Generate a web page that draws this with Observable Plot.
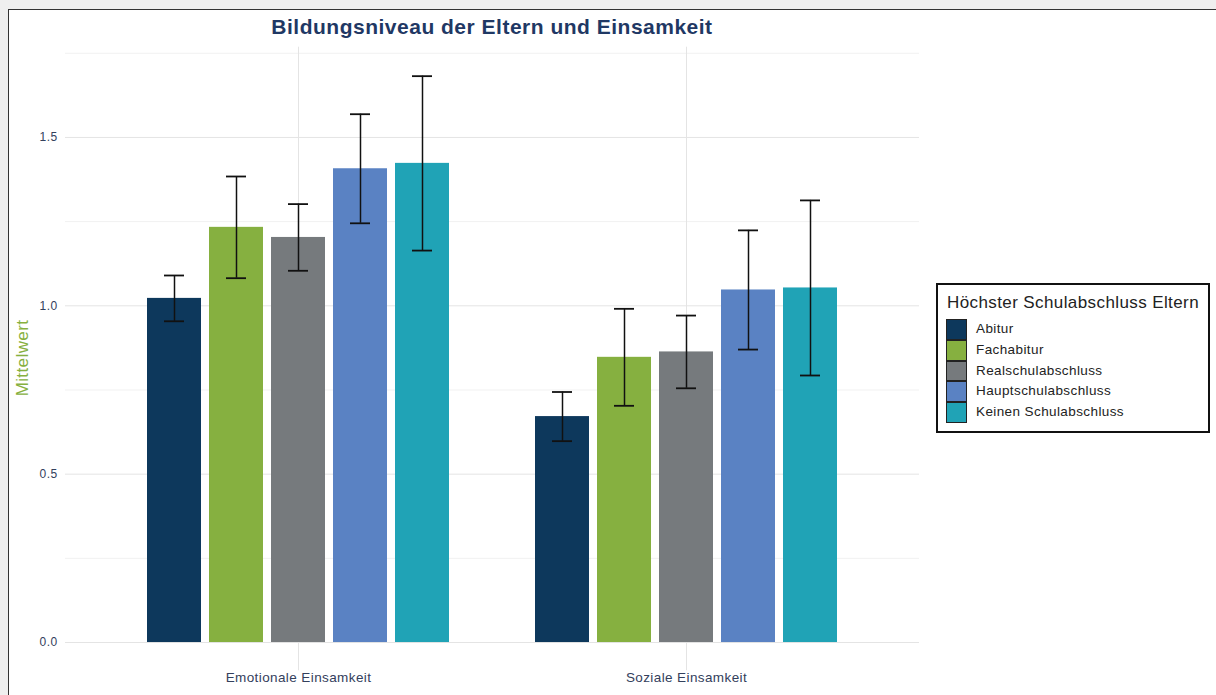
<!DOCTYPE html>
<html>
<head>
<meta charset="utf-8">
<script src="https://cdn.jsdelivr.net/npm/d3@7"></script>
<script src="https://cdn.jsdelivr.net/npm/@observablehq/plot@0.6"></script>
<style>
  html, body { margin: 0; padding: 0; background: #efefef; width: 1216px; height: 695px; overflow: hidden; font-family: "Liberation Sans", Arial, sans-serif; }
  #frame { position: absolute; left: 8px; top: 9px; width: 1220px; height: 700px; background: #fff; border-left: 1.5px solid #333; border-top: 1.5px solid #333; }
  .layer { position: absolute; left: 0; top: 0; }
  .layer svg { background: transparent !important; }
  #title { position: absolute; left: 0; width: 984px; top: 15px; text-align: center; font-weight: bold; font-size: 21px; color: #1f3864; letter-spacing: 0.5px; }
  #ylab { position: absolute; left: 23px; top: 358px; transform: translate(-50%, -50%) rotate(-90deg); font-size: 17px; letter-spacing: 0.4px; color: #86b040; white-space: nowrap; }
  #legend { position: absolute; left: 936px; top: 283px; width: 270px; height: 146px; border: 2px solid #111; background: #fff; box-sizing: content-box; }
  #legend .lt { position: absolute; left: 9px; top: 8px; font-size: 17px; letter-spacing: 0.4px; color: #222; white-space: nowrap; }
  #legend .sw { position: absolute; left: 8px; width: 21px; height: 20.8px; box-sizing: border-box; border: 1px solid #222; }
  #legend .ll { position: absolute; left: 38px; font-size: 13.5px; letter-spacing: 0.4px; color: #222; white-space: nowrap; line-height: 20.8px; }
  #grid svg text { letter-spacing: 0.4px; }
</style>
</head>
<body>
<div id="frame"></div>
<div id="title">Bildungsniveau der Eltern und Einsamkeit</div>
<div id="ylab">Mittelwert</div>
<div id="grid" class="layer"></div>
<div id="bars" class="layer"></div>
<div id="legend"></div>
<script>
// ---- data ----
const categories = ["Emotionale Einsamkeit", "Soziale Einsamkeit"];
const education = ["Abitur", "Fachabitur", "Realschulabschluss", "Hauptschulabschluss", "Keinen Schulabschluss"];
const colors = ["#0d385c", "#86b040", "#767a7d", "#5a82c3", "#20a3b6"];
const meansEmotional = [1.022, 1.233, 1.203, 1.407, 1.423];
const errorsEmotional = [0.068, 0.151, 0.099, 0.162, 0.259];
const meansSocial = [0.671, 0.847, 0.863, 1.047, 1.053];
const errorsSocial = [0.073, 0.144, 0.108, 0.177, 0.260];
const yTicks = [0, 0.5, 1, 1.5];
const yMinor = [0.25, 0.75, 1.25, 1.75];
const titleText = "Höchster Schulabschluss Eltern";

const rows = [];
[[meansEmotional, errorsEmotional], [meansSocial, errorsSocial]].forEach(([m, e], ci) => {
  education.forEach((ed, i) => rows.push({cat: categories[ci], edu: ed, mean: m[i], lo: m[i] - e[i], hi: m[i] + e[i]}));
});

// ---- layout ----
const W = 1216, H = 695;
const margins = {marginLeft: 65, marginRight: 297, marginTop: 46.7, marginBottom: 24.7};
const yDomain = [-0.084, 1.768];
const textColor = "#33405c";

// background layer: grid + axis labels
const gridPlot = Plot.plot({
  width: W, height: H, ...margins,
  x: {type: "band", domain: categories, paddingInner: 0.2, paddingOuter: 0.2, axis: null},
  y: {domain: yDomain, axis: null},
  style: {fontFamily: "Liberation Sans, Arial, sans-serif", background: "transparent"},
  marks: [
    Plot.ruleY(yMinor, {y: d => d, stroke: "#f1f1f1", strokeWidth: 1}),
    Plot.ruleY(yTicks, {y: d => d, stroke: "#e4e4e4", strokeWidth: 1}),
    Plot.ruleX(categories, {x: d => d, stroke: "#e4e4e4", strokeWidth: 1}),
    Plot.text(yTicks, {y: d => d, text: d => d.toFixed(1), frameAnchor: "left", textAnchor: "end", dx: -8, fontSize: 12, fill: textColor}),
    Plot.text(categories, {x: d => d, text: d => d, frameAnchor: "bottom", dy: 11, fontSize: 13.5, fill: textColor})
  ]
});
document.getElementById("grid").appendChild(gridPlot);

// foreground layer: bars + error bars, faceted by category
const barPlot = Plot.plot({
  width: W, height: H, ...margins,
  facet: {data: rows, x: "cat"},
  fx: {domain: categories, paddingInner: 0.2, paddingOuter: 0.2, axis: null},
  x: {domain: education, paddingInner: 0.13, paddingOuter: 0.065, axis: null},
  y: {domain: yDomain, axis: null},
  color: {domain: education, range: colors},
  style: {background: "transparent"},
  marks: [
    Plot.barY(rows, {x: "edu", y: "mean", fill: "edu"}),
    Plot.ruleX(rows, {x: "edu", y1: "lo", y2: "hi", stroke: "#111", strokeWidth: 1.5}),
    Plot.tickY(rows, {x: "edu", y: "lo", stroke: "#111", strokeWidth: 1.8, insetLeft: 17, insetRight: 17}),
    Plot.tickY(rows, {x: "edu", y: "hi", stroke: "#111", strokeWidth: 1.8, insetLeft: 17, insetRight: 17})
  ]
});
document.getElementById("bars").appendChild(barPlot);

// legend
const lg = document.getElementById("legend");
const t = document.createElement("div"); t.className = "lt"; t.textContent = titleText; lg.appendChild(t);
education.forEach((ed, i) => {
  const sw = document.createElement("div"); sw.className = "sw";
  sw.style.top = (34 + i * 20.8) + "px"; sw.style.background = colors[i];
  lg.appendChild(sw);
  const l = document.createElement("div"); l.className = "ll";
  l.style.top = (34 + i * 20.8) + "px"; l.textContent = ed;
  lg.appendChild(l);
});
</script>
</body>
</html>
